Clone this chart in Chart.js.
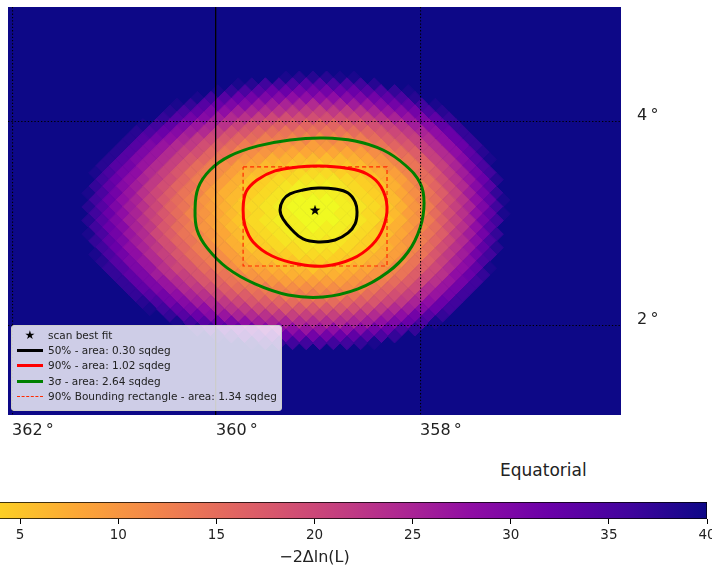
<!DOCTYPE html>
<html>
<head>
<meta charset="utf-8">
<script src="https://cdn.jsdelivr.net/npm/chart.js@4.4.0/dist/chart.umd.min.js"></script>
<style>
  html, body { margin: 0; padding: 0; background: #fff; overflow: hidden; }
  body { width: 712px; height: 569px; position: relative; font-family: "DejaVu Sans", sans-serif; }
  #mapBox { position: absolute; left: 0; top: 0; width: 712px; height: 450px; }
  #barBox { position: absolute; left: -90px; top: 490px; width: 810px; height: 80px; }
  #frameName { position: absolute; left: 500px; top: 460px; font-size: 17px; color: #222; }
  #legend { position: absolute; left: 11px; top: 325px; width: 271px; height: 86px; box-sizing: border-box;
            background: rgba(255,255,255,0.8); border: 1px solid #cccccc; border-radius: 3px; padding-top: 2px;
            font-size: 10.5px; color: #222; }
  #legend .item { height: 15.2px; line-height: 15.2px; white-space: nowrap; display: flex; align-items: center; }
  #legend .key { width: 28px; margin-left: 4px; margin-right: 4px; display: inline-flex; justify-content: center; align-items: center; }
  #legend .ln { display: block; width: 26px; height: 0; }
  #legend .star { font-size: 12px; color: #000; }
</style>
</head>
<body>
<div id="mapBox"><canvas id="map"></canvas></div>
<div id="frameName">Equatorial</div>
<div id="barBox"><canvas id="cbar"></canvas></div>
<div id="legend"></div>
<script>
// axis ticks
const raTicks = [358, 360, 362]
const decTicks = [2, 4]
const cbarTicks = [5, 10, 15, 20, 25, 30, 35, 40]
const cbarMin = 0
const cbarMax = 40

// sky cells: −2ΔlnL, north row first
// rows step 1/15 deg in dec, every other row is shifted by half a cell in ra
const gridStep = 1 / 15
const gridDecTop = 4.5 - gridStep
const gridRaLeft = 361.25
const likeRows = [
  [40,40,40,40,40,40,40,40,40,40,40,40,40,40,39,38,38,38,39,39,40,40,40,40,40,40,40,40,40,40,40],
  [40,40,40,40,40,40,40,40,40,40,40,39,38,36,36,35,34,34,35,35,36,38,40,40,40,40,40,40,40,40,40],
  [40,40,40,40,40,40,40,40,40,39,37,35,34,32,32,31,31,31,32,32,34,35,37,39,40,40,40,40,40,40,40],
  [40,40,40,40,40,40,40,40,39,36,34,32,31,30,29,28,28,28,28,29,30,31,33,35,38,40,40,40,40,40,40],
  [40,40,40,40,40,40,39,37,34,32,30,29,27,26,25,25,24,25,25,26,27,29,31,33,36,39,40,40,40,40,40],
  [40,40,40,40,40,40,38,35,33,30,28,26,25,24,23,22,22,21,22,22,23,25,27,29,31,35,38,40,40,40,40],
  [40,40,40,40,40,37,34,31,29,26,24,23,21,20,19,19,19,19,19,20,21,23,25,27,30,33,37,40,40,40,40],
  [40,40,40,40,39,36,33,30,27,25,23,21,19,18,17,17,16,16,16,17,18,19,21,23,26,29,33,37,40,40,40],
  [40,40,40,38,35,32,29,26,24,21,19,18,16,15,14,14,14,14,14,15,16,18,20,22,25,28,32,37,40,40,40],
  [40,40,40,38,34,31,28,25,22,20,18,16,15,13,13,12,12,11,12,12,13,15,17,19,21,24,28,32,37,40,40],
  [40,40,38,34,30,27,24,22,19,17,15,13,12,11,10,10,9,10,10,11,12,14,16,18,21,24,28,32,37,40,40],
  [40,40,38,34,30,27,24,21,19,16,14,12,11,10,9,8,8,8,8,8,9,11,13,15,17,21,24,28,33,38,40],
  [40,38,34,30,27,24,21,18,16,14,12,10,9,7,7,6,6,6,6,7,8,10,12,14,17,21,24,29,34,39,40],
  [40,38,34,31,27,24,21,18,15,13,11,9,8,6,6,5,5,4,5,5,6,8,10,12,14,17,21,25,30,35,40],
  [39,35,31,28,24,21,18,15,13,11,9,7,6,5,4,3,3,3,4,5,6,7,9,12,15,18,22,26,31,36,40],
  [40,36,32,28,25,22,19,16,13,11,9,7,5,4,3,3,2,2,2,3,4,5,7,9,12,15,19,23,27,32,38],
  [37,33,29,26,22,19,16,14,11,9,7,5,4,3,2,1,1,1,2,3,4,5,7,10,13,16,20,24,29,34,40],
  [39,35,31,27,23,20,17,14,12,9,7,6,4,3,2,1,1,1,1,2,3,4,6,8,11,14,17,21,26,31,37],
  [36,32,28,25,21,18,15,13,10,8,6,4,3,2,1,0,0,0,1,2,3,4,6,9,12,15,19,23,28,33,39],
  [38,34,30,26,23,20,16,14,11,9,7,5,3,2,1,0,0,0,0,1,2,3,5,7,10,13,17,21,25,30,36],
  [36,32,28,25,21,18,15,12,10,8,6,4,3,2,1,0,0,0,1,1,3,4,6,9,11,15,19,23,28,33,39],
  [38,34,30,26,23,20,17,14,11,9,7,5,3,2,1,1,0,0,0,1,2,3,5,7,10,13,17,21,25,31,36],
  [36,32,29,25,22,18,15,13,10,8,6,4,3,2,1,1,0,1,1,2,3,5,7,9,12,15,19,23,28,34,40],
  [39,35,31,27,24,20,17,14,12,10,8,6,4,3,2,1,1,1,1,2,3,4,6,8,11,14,17,22,26,31,37],
  [37,33,30,26,23,19,16,14,11,9,7,5,4,3,2,2,1,2,2,3,4,6,8,10,13,16,20,24,29,35,40],
  [40,36,32,28,25,22,19,16,13,11,9,7,5,4,3,3,2,2,2,3,4,5,7,9,12,15,19,23,27,33,38],
  [39,35,31,28,24,21,18,15,13,11,9,7,6,5,4,3,3,3,4,4,6,7,9,12,14,18,22,26,31,36,40],
  [40,38,34,30,27,24,21,18,15,13,11,9,7,6,5,5,4,4,4,5,6,7,9,11,14,17,21,25,29,35,40],
  [40,37,34,30,27,23,20,18,15,13,11,9,8,7,6,6,5,6,6,7,8,10,12,14,17,20,24,28,33,39,40],
  [40,40,37,33,30,26,23,21,18,16,14,12,10,9,8,7,7,7,7,8,9,10,12,14,17,20,23,28,32,37,40],
  [40,40,37,33,30,27,24,21,18,16,14,13,11,10,9,9,9,9,9,10,11,13,15,17,20,23,27,31,36,40,40],
  [40,40,40,37,33,30,27,24,22,19,17,15,14,13,12,11,11,11,11,11,12,14,16,18,20,24,27,31,36,40,40],
  [40,40,40,37,34,31,28,25,23,20,18,17,15,14,13,13,13,13,13,14,15,17,19,21,24,27,31,36,40,40,40],
  [40,40,40,40,38,35,31,29,26,24,22,20,18,17,16,15,15,15,15,16,17,18,20,22,25,28,32,36,40,40,40],
  [40,40,40,40,39,36,33,30,28,25,23,22,20,19,18,18,18,18,18,19,20,22,24,26,29,32,36,40,40,40,40],
  [40,40,40,40,40,40,37,34,32,29,27,25,24,23,22,21,21,21,21,22,23,24,26,28,31,34,37,40,40,40,40],
  [40,40,40,40,40,40,39,36,34,32,30,28,26,25,25,24,24,24,24,25,26,28,30,32,35,39,40,40,40,40,40],
  [40,40,40,40,40,40,40,40,38,36,34,32,31,29,28,28,27,27,28,28,29,31,32,35,37,40,40,40,40,40,40],
  [40,40,40,40,40,40,40,40,40,39,37,35,34,33,32,31,31,31,32,33,34,35,37,40,40,40,40,40,40,40,40],
  [40,40,40,40,40,40,40,40,40,40,40,40,39,37,37,36,36,35,36,36,37,39,40,40,40,40,40,40,40,40,40]
]

// best fit
const bestRa = [359.03]
const bestDec = [3.137]

// contours (ra, dec)
const c50Ra = [359.373, 359.343, 359.275, 359.147, 359.000, 358.833, 358.706, 358.637, 358.618, 358.637, 358.706, 358.833, 359.000, 359.147, 359.255, 359.343]
const c50Dec = [3.137, 3.235, 3.294, 3.333, 3.353, 3.343, 3.304, 3.216, 3.118, 3.000, 2.912, 2.843, 2.824, 2.853, 2.941, 3.049]
const c90Ra = [359.735, 359.706, 359.598, 359.422, 359.196, 358.980, 358.735, 358.520, 358.382, 358.324, 358.363, 358.471, 358.667, 358.931, 359.196, 359.451, 359.637, 359.716]
const c90Dec = [3.137, 3.314, 3.431, 3.520, 3.559, 3.569, 3.549, 3.490, 3.363, 3.167, 2.961, 2.794, 2.657, 2.588, 2.608, 2.686, 2.824, 2.980]
const c3sRa = [360.206, 360.176, 360.059, 359.863, 359.588, 359.275, 358.951, 358.637, 358.363, 358.147, 358.000, 357.961, 358.000, 358.118, 358.314, 358.608, 358.951, 359.294, 359.618, 359.892, 360.088, 360.186]
const c3sDec = [3.137, 3.353, 3.529, 3.667, 3.765, 3.824, 3.843, 3.814, 3.725, 3.578, 3.402, 3.206, 2.961, 2.725, 2.529, 2.363, 2.284, 2.304, 2.412, 2.569, 2.765, 2.941]
// 90% bounding rectangle
const rectRa = [359.735, 358.324, 358.324, 359.735, 359.735]
const rectDec = [3.559, 3.559, 2.588, 2.588, 3.559]

// plasma colormap stops (t = 0..1)
const plasma = [[13,8,135],[65,4,157],[106,0,168],[143,13,164],[177,42,144],[204,71,120],[225,100,98],[242,132,75],[252,166,54],[252,206,37],[240,249,33]]

function plasmaR(v) {
  // reversed: low values yellow, high values dark blue
  var t = 1 - Math.min(Math.max((v - cbarMin) / (cbarMax - cbarMin), 0), 1)
  var p = t * (plasma.length - 1)
  var i = Math.min(Math.floor(p), plasma.length - 2)
  var f = p - i
  var a = plasma[i], b = plasma[i + 1]
  return 'rgb(' + Math.round(a[0] + (b[0] - a[0]) * f) + ',' + Math.round(a[1] + (b[1] - a[1]) * f) + ',' + Math.round(a[2] + (b[2] - a[2]) * f) + ')'
}

// build the heat cells
var heatPts = []
var heatCol = []
likeRows.forEach(function (row, r) {
  var dec = gridDecTop - r * gridStep
  var shift = (r % 2 === 0) ? gridStep : 0
  row.forEach(function (v, i) {
    if (v >= cbarMax) return
    heatPts.push({ x: gridRaLeft - shift - 2 * gridStep * i, y: dec })
    heatCol.push(plasmaR(v))
  })
})

function pts(ra, dec) {
  return ra.map(function (x, i) { return { x: x, y: dec[i] } })
}
// closed contour: pad with neighbours so the spline is smooth, hide the padding segments
function loop(ra, dec) {
  var p = pts(ra, dec)
  return [p[p.length - 1]].concat(p, [p[0], p[1]])
}
function hideEnds(n) {
  return {
    borderColor: function (ctx) {
      return (ctx.p0DataIndex === 0 || ctx.p1DataIndex === n + 2) ? 'rgba(0,0,0,0)' : undefined
    }
  }
}

// filled star marker
var starImg = document.createElement('canvas')
starImg.width = 12
starImg.height = 12
var sc = starImg.getContext('2d')
sc.beginPath()
for (var k = 0; k < 10; k++) {
  var rr = k % 2 === 0 ? 5.6 : 2.3
  var ang = -Math.PI / 2 + k * Math.PI / 5
  sc.lineTo(6 + rr * Math.cos(ang), 6.4 + rr * Math.sin(ang))
}
sc.closePath()
sc.fillStyle = '#000'
sc.fill()

const mapBg = {
  id: 'mapBg',
  beforeDraw(chart) {
    var a = chart.chartArea
    chart.ctx.save()
    chart.ctx.fillStyle = plasmaR(cbarMax)
    chart.ctx.fillRect(a.left, a.top, a.right - a.left, a.bottom - a.top)
    chart.ctx.restore()
  }
}

function cellRadius(ctx) {
  var s = ctx.chart.scales.x
  return Math.abs(s.getPixelForValue(360) - s.getPixelForValue(360 + gridStep))
}

const tickFont = { family: 'DejaVu Sans', size: 16 }
function degLabel(v) { return v + '\u2009°' }

const mapChart = new Chart(document.getElementById('map'), {
  type: 'scatter',
  data: {
    datasets: [
      { label: 'scan best fit', data: pts(bestRa, bestDec), pointStyle: starImg, pointRadius: 6, order: 0 },
      { label: '50% - area: 0.30 sqdeg', data: loop(c50Ra, c50Dec), showLine: true, borderColor: '#000000', borderWidth: 3,
        pointRadius: 0, tension: 0.4, segment: hideEnds(c50Ra.length), order: 1 },
      { label: '90% - area: 1.02 sqdeg', data: loop(c90Ra, c90Dec), showLine: true, borderColor: '#ff0000', borderWidth: 3,
        pointRadius: 0, tension: 0.4, segment: hideEnds(c90Ra.length), order: 2 },
      { label: '3σ - area: 2.64 sqdeg', data: loop(c3sRa, c3sDec), showLine: true, borderColor: '#008000', borderWidth: 3,
        pointRadius: 0, tension: 0.4, segment: hideEnds(c3sRa.length), order: 3 },
      { label: '90% Bounding rectangle - area: 1.34 sqdeg', data: pts(rectRa, rectDec), showLine: true, borderColor: '#ff2a00',
        borderWidth: 1.2, borderDash: [4, 3], pointRadius: 0, tension: 0, order: 4 },
      { data: heatPts, pointStyle: 'rectRot', pointRadius: cellRadius, backgroundColor: heatCol,
        borderColor: heatCol, borderWidth: 1, order: 10 }
    ]
  },
  options: {
    responsive: true,
    maintainAspectRatio: false,
    animation: false,
    events: [],
    layout: { padding: { left: 8, top: 7, right: 0, bottom: 0 } },
    plugins: { legend: { display: false }, tooltip: { enabled: false } },
    scales: {
      x: {
        type: 'linear', reverse: true, min: 356.03, max: 362.04,
        afterBuildTicks: function (s) { s.ticks = raTicks.map(function (v) { return { value: v } }) },
        afterFit: function (s) { s.height = 35; s.paddingLeft = 0; s.paddingRight = 0 },
        grid: { color: '#000', lineWidth: function (ctx) { return ctx.tick && ctx.tick.value === 360 ? 1.3 : 1.1 }, drawTicks: false, z: 1 },
        border: { display: false, dash: function (ctx) { return ctx.tick && ctx.tick.value === 360 ? [] : [1.3, 2] } },
        ticks: { align: 'start', padding: 6, font: tickFont, color: '#222', callback: degLabel }
      },
      y: {
        type: 'linear', position: 'right', min: 1.127, max: 5.127,
        afterBuildTicks: function (s) { s.ticks = decTicks.map(function (v) { return { value: v } }) },
        afterFit: function (s) { s.width = 91; s.paddingTop = 0; s.paddingBottom = 0 },
        grid: { color: '#000', lineWidth: 1.1, drawTicks: false, z: 1 },
        border: { display: false, dash: [1.3, 2] },
        ticks: { padding: 16, labelOffset: -6, font: tickFont, color: '#222', callback: degLabel }
      }
    }
  },
  plugins: [mapBg]
})

// colour bar
function cbarFill(ctx) {
  var chart = ctx.chart
  if (!chart.chartArea) return plasmaR(20)
  var x = chart.scales.x
  var g = chart.ctx.createLinearGradient(x.getPixelForValue(cbarMin), 0, x.getPixelForValue(cbarMax), 0)
  for (var i = 0; i <= 40; i++) {
    g.addColorStop(i / 40, plasmaR(cbarMin + (cbarMax - cbarMin) * i / 40))
  }
  return g
}

new Chart(document.getElementById('cbar'), {
  type: 'bar',
  data: {
    labels: [''],
    datasets: [{ data: [[cbarMin, cbarMax]], backgroundColor: cbarFill, borderColor: '#000', borderWidth: 1,
      borderSkipped: false, barPercentage: 1, categoryPercentage: 1 }]
  },
  options: {
    indexAxis: 'y',
    responsive: true,
    maintainAspectRatio: false,
    animation: false,
    events: [],
    layout: { padding: { left: 12, top: 12, right: 13, bottom: 0 } },
    plugins: { legend: { display: false }, tooltip: { enabled: false } },
    scales: {
      x: {
        type: 'linear', min: cbarMin, max: cbarMax,
        afterBuildTicks: function (s) { s.ticks = cbarTicks.map(function (v) { return { value: v } }) },
        afterFit: function (s) { s.height = 51 },
        grid: { drawOnChartArea: false, drawTicks: true, tickLength: 5, color: '#000', tickColor: '#000' },
        border: { display: false },
        ticks: { padding: 3, font: { family: 'DejaVu Sans', size: 13.5 }, color: '#222' },
        title: { display: true, text: '−2Δln(L)', padding: { top: 0, bottom: 3 }, font: { family: 'DejaVu Sans', size: 16 }, color: '#222' }
      },
      y: { display: false }
    }
  }
})

// legend box in the lower left corner of the map
var legendBox = document.getElementById('legend')
mapChart.data.datasets.forEach(function (ds) {
  if (!ds.label) return
  var row = document.createElement('div')
  row.className = 'item'
  var key = document.createElement('span')
  key.className = 'key'
  if (ds.pointStyle === starImg) {
    key.textContent = '★'
    key.classList.add('star')
  } else {
    var ln = document.createElement('span')
    ln.className = 'ln'
    ln.style.borderTop = (ds.borderDash ? '1.5px dashed ' : ds.borderWidth + 'px solid ') + ds.borderColor
    key.appendChild(ln)
  }
  var txt = document.createElement('span')
  txt.textContent = ds.label
  row.appendChild(key)
  row.appendChild(txt)
  legendBox.appendChild(row)
})
</script>
</body>
</html>
